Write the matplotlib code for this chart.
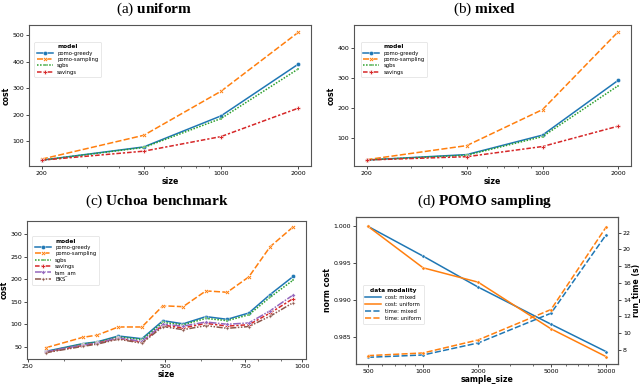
import numpy as np
import matplotlib
matplotlib.use("Agg")
import matplotlib.pyplot as plt
from matplotlib.lines import Line2D
from matplotlib.ticker import FixedLocator, ScalarFormatter, NullFormatter

plt.rcParams['font.family'] = ['DejaVu Sans']
plt.rcParams['mathtext.fontset'] = 'custom'
plt.rcParams['mathtext.rm'] = 'Liberation Serif'
plt.rcParams['mathtext.bf'] = 'Liberation Serif:bold'

# (a) uniform / (b) mixed
sizes_ab = [200, 500, 1000, 2000]
models_ab = ['pomo-greedy', 'pomo-sampling', 'sgbs', 'savings']
uniform_cost = {
    'pomo-greedy':   [28, 78, 195, 390],
    'pomo-sampling': [32, 122, 288, 510],
    'sgbs':          [28, 76, 185, 372],
    'savings':       [28, 62, 117, 224],
}
mixed_cost = {
    'pomo-greedy':   [27, 45, 110, 293],
    'pomo-sampling': [28, 75, 195, 455],
    'sgbs':          [27, 43, 105, 275],
    'savings':       [27, 38, 72, 140],
}

# (c) Uchoa benchmark
sizes_c = [274, 330, 355, 395, 445, 495, 548, 615, 685, 764, 851, 956]
models_c = ['pomo-greedy', 'pomo-sampling', 'sgbs', 'savings', 'tam_am', 'BKS']
uchoa_cost = {
    'pomo-greedy':   [40, 57, 61, 74, 68, 108, 101, 117, 111, 125, 166, 206],
    'pomo-sampling': [48, 71, 76, 94, 94, 141, 139, 174, 171, 205, 272, 316],
    'sgbs':          [39, 56, 60, 72, 66, 104, 99, 113, 108, 121, 160, 198],
    'tam_am':        [39, 54, 58, 70, 62, 100, 96, 105, 100, 103, 130, 165],
    'savings':       [38, 53, 58, 69, 60, 98, 92, 102, 96, 99, 125, 157],
    'BKS':           [37, 51, 56, 67, 58, 95, 88, 97, 91, 95, 118, 148],
}

# (d) POMO sampling
sample_size = [500, 1000, 2000, 5000, 10000]
cost_mixed = [1.000, 0.99595, 0.99173, 0.98668, 0.98295]
cost_uniform = [1.000, 0.99436, 0.9924, 0.98605, 0.98227]
time_mixed = [7.08, 7.36, 8.8, 12.36, 21.76]
time_uniform = [7.28, 7.6, 9.16, 12.8, 22.68]

colors = {'pomo-greedy': '#1f77b4', 'pomo-sampling': '#ff7f0e', 'sgbs': '#2ca02c',
          'savings': '#d62728', 'tam_am': '#9467bd', 'BKS': '#8c564b'}
markers = {'pomo-greedy': 'o', 'pomo-sampling': 'X', 'sgbs': (4, 0, 45),
           'savings': 'P', 'tam_am': (4, 0, 0), 'BKS': (4, 1, 0)}
dashes = {'pomo-greedy': (None, None), 'pomo-sampling': (4, 1.5), 'sgbs': (1, 1),
          'savings': (3, 1.25, 1.5, 1.25), 'tam_am': (5, 1, 1, 1), 'BKS': (4, 1, 1, 1, 1, 1)}

TICK = 4.5
LAB = 5.6
LEG = 3.8
LW = 1.1

fig = plt.figure(figsize=(6.4, 3.84), dpi=100)


def style_ax(ax):
    ax.tick_params(which='major', labelsize=TICK, length=2, width=0.5, pad=1.5)
    ax.tick_params(which='minor', length=1.2, width=0.4)
    for s in ax.spines.values():
        s.set_linewidth(0.8)
        s.set_color('#555555')


def draw_models(ax, x, data, order, xticks, yticks, legpos):
    for m in order:
        ln, = ax.plot(x, data[m], color=colors[m], marker=markers[m], ms=3,
                      mec='w', mew=0.3, lw=LW, label=m)
        if dashes[m][0] is not None:
            ln.set_dashes(dashes[m])
    ax.set_xscale('log')
    ax.xaxis.set_major_locator(FixedLocator(xticks))
    ax.xaxis.set_major_formatter(ScalarFormatter())
    ax.xaxis.set_minor_formatter(NullFormatter())
    ax.set_yticks(yticks)
    ax.set_xlabel('size', fontsize=LAB, fontweight='bold', labelpad=1)
    ax.set_ylabel('cost', fontsize=LAB, fontweight='bold', labelpad=1)
    style_ax(ax)
    h, l = ax.get_legend_handles_labels()
    order_h = [h[l.index(m)] for m in models_c if m in l]
    order_l = [m for m in models_c if m in l]
    leg = ax.legend(order_h, order_l, loc='upper left', bbox_to_anchor=legpos,
                    fontsize=LEG, title='model', title_fontproperties={'weight': 'bold', 'size': LEG + 0.4},
                    frameon=True, borderpad=0.5, handlelength=3, labelspacing=0.25)
    leg.get_frame().set_linewidth(0.4)


# (a)
ax1 = fig.add_axes([0.0453, 0.5677, 0.4406, 0.3672])
draw_models(ax1, sizes_ab, uniform_cost, models_ab, sizes_ab, [100, 200, 300, 400, 500], (0.01, 0.9))
ax1.set_ylim(6, 538)

# (b)
ax2 = fig.add_axes([0.553, 0.5677, 0.4328, 0.3672])
draw_models(ax2, sizes_ab, mixed_cost, models_ab, sizes_ab, [100, 200, 300, 400], (0.015, 0.9))
ax2.set_ylim(7, 477)

# (c)
ax3 = fig.add_axes([0.0422, 0.0651, 0.4359, 0.3594])
draw_models(ax3, sizes_c, uchoa_cost, models_c,
            [250, 500, 750, 1000], [50, 100, 150, 200, 250, 300], (0.01, 0.91))
ax3.set_xlim(249, 1020)
ax3.set_ylim(23, 329)

# (d)
ax4 = fig.add_axes([0.5563, 0.0521, 0.4094, 0.3828])
ax5 = ax4.twinx()
kw = dict(marker='o', ms=2.3, mec='w', mew=0.3, lw=LW)
ax4.plot(sample_size, cost_mixed, color='#1f77b4', **kw)
ax4.plot(sample_size, cost_uniform, color='#ff7f0e', **kw)
ax5.plot(sample_size, time_mixed, color='#1f77b4', dashes=(4, 1.5), **kw)
ax5.plot(sample_size, time_uniform, color='#ff7f0e', dashes=(4, 1.5), **kw)
ax4.set_xscale('log')
ax4.xaxis.set_major_locator(FixedLocator(sample_size))
ax4.xaxis.set_major_formatter(ScalarFormatter())
ax4.xaxis.set_minor_formatter(NullFormatter())
ax4.set_ylim(0.98127, 1.00127)
ax4.set_yticks([0.985, 0.990, 0.995, 1.000])
ax4.set_yticklabels(['0.985', '0.990', '0.995', '1.000'])
ax5.set_ylim(6.28, 23.88)
ax5.set_yticks([8, 10, 12, 14, 16, 18, 20, 22])
ax4.set_xlabel('sample_size', fontsize=LAB, fontweight='bold', labelpad=1)
ax4.set_ylabel('norm cost', fontsize=LAB, fontweight='bold', labelpad=1)
ax5.set_ylabel('run_time (s)', fontsize=LAB, fontweight='bold', labelpad=1)
style_ax(ax4)
style_ax(ax5)
# legend handles: plain lines, no markers
hd = [Line2D([], [], color='#1f77b4', lw=LW),
      Line2D([], [], color='#ff7f0e', lw=LW),
      Line2D([], [], color='#1f77b4', lw=LW, dashes=(4, 1.5)),
      Line2D([], [], color='#ff7f0e', lw=LW, dashes=(4, 1.5))]
leg = ax5.legend(hd, ['cost: mixed', 'cost: uniform', 'time: mixed', 'time: uniform'],
                 loc='upper left', bbox_to_anchor=(0.015, 0.555), fontsize=LEG,
                 title='data modality', title_fontproperties={'weight': 'bold', 'size': LEG + 0.4},
                 borderpad=0.5, handlelength=3, labelspacing=0.4)
leg.get_frame().set_linewidth(0.4)

# panel titles
TS = 11
SERIF = 'Liberation Serif'
fig.text(154 / 640, 1 - 9 / 384, r'(a) $\mathbf{uniform}$', ha='center', va='center', fontsize=TS, family=SERIF)
fig.text(485 / 640, 1 - 9 / 384, r'(b) $\mathbf{mixed}$', ha='center', va='center', fontsize=TS, family=SERIF)
fig.text(157 / 640, 1 - 201 / 384, r'(c) $\mathbf{Uchoa\ benchmark}$', ha='center', va='center', fontsize=TS, family=SERIF)
fig.text(485 / 640, 1 - 201 / 384, r'(d) $\mathbf{POMO\ sampling}$', ha='center', va='center', fontsize=TS, family=SERIF)

fig.savefig('out.png', dpi=100)
